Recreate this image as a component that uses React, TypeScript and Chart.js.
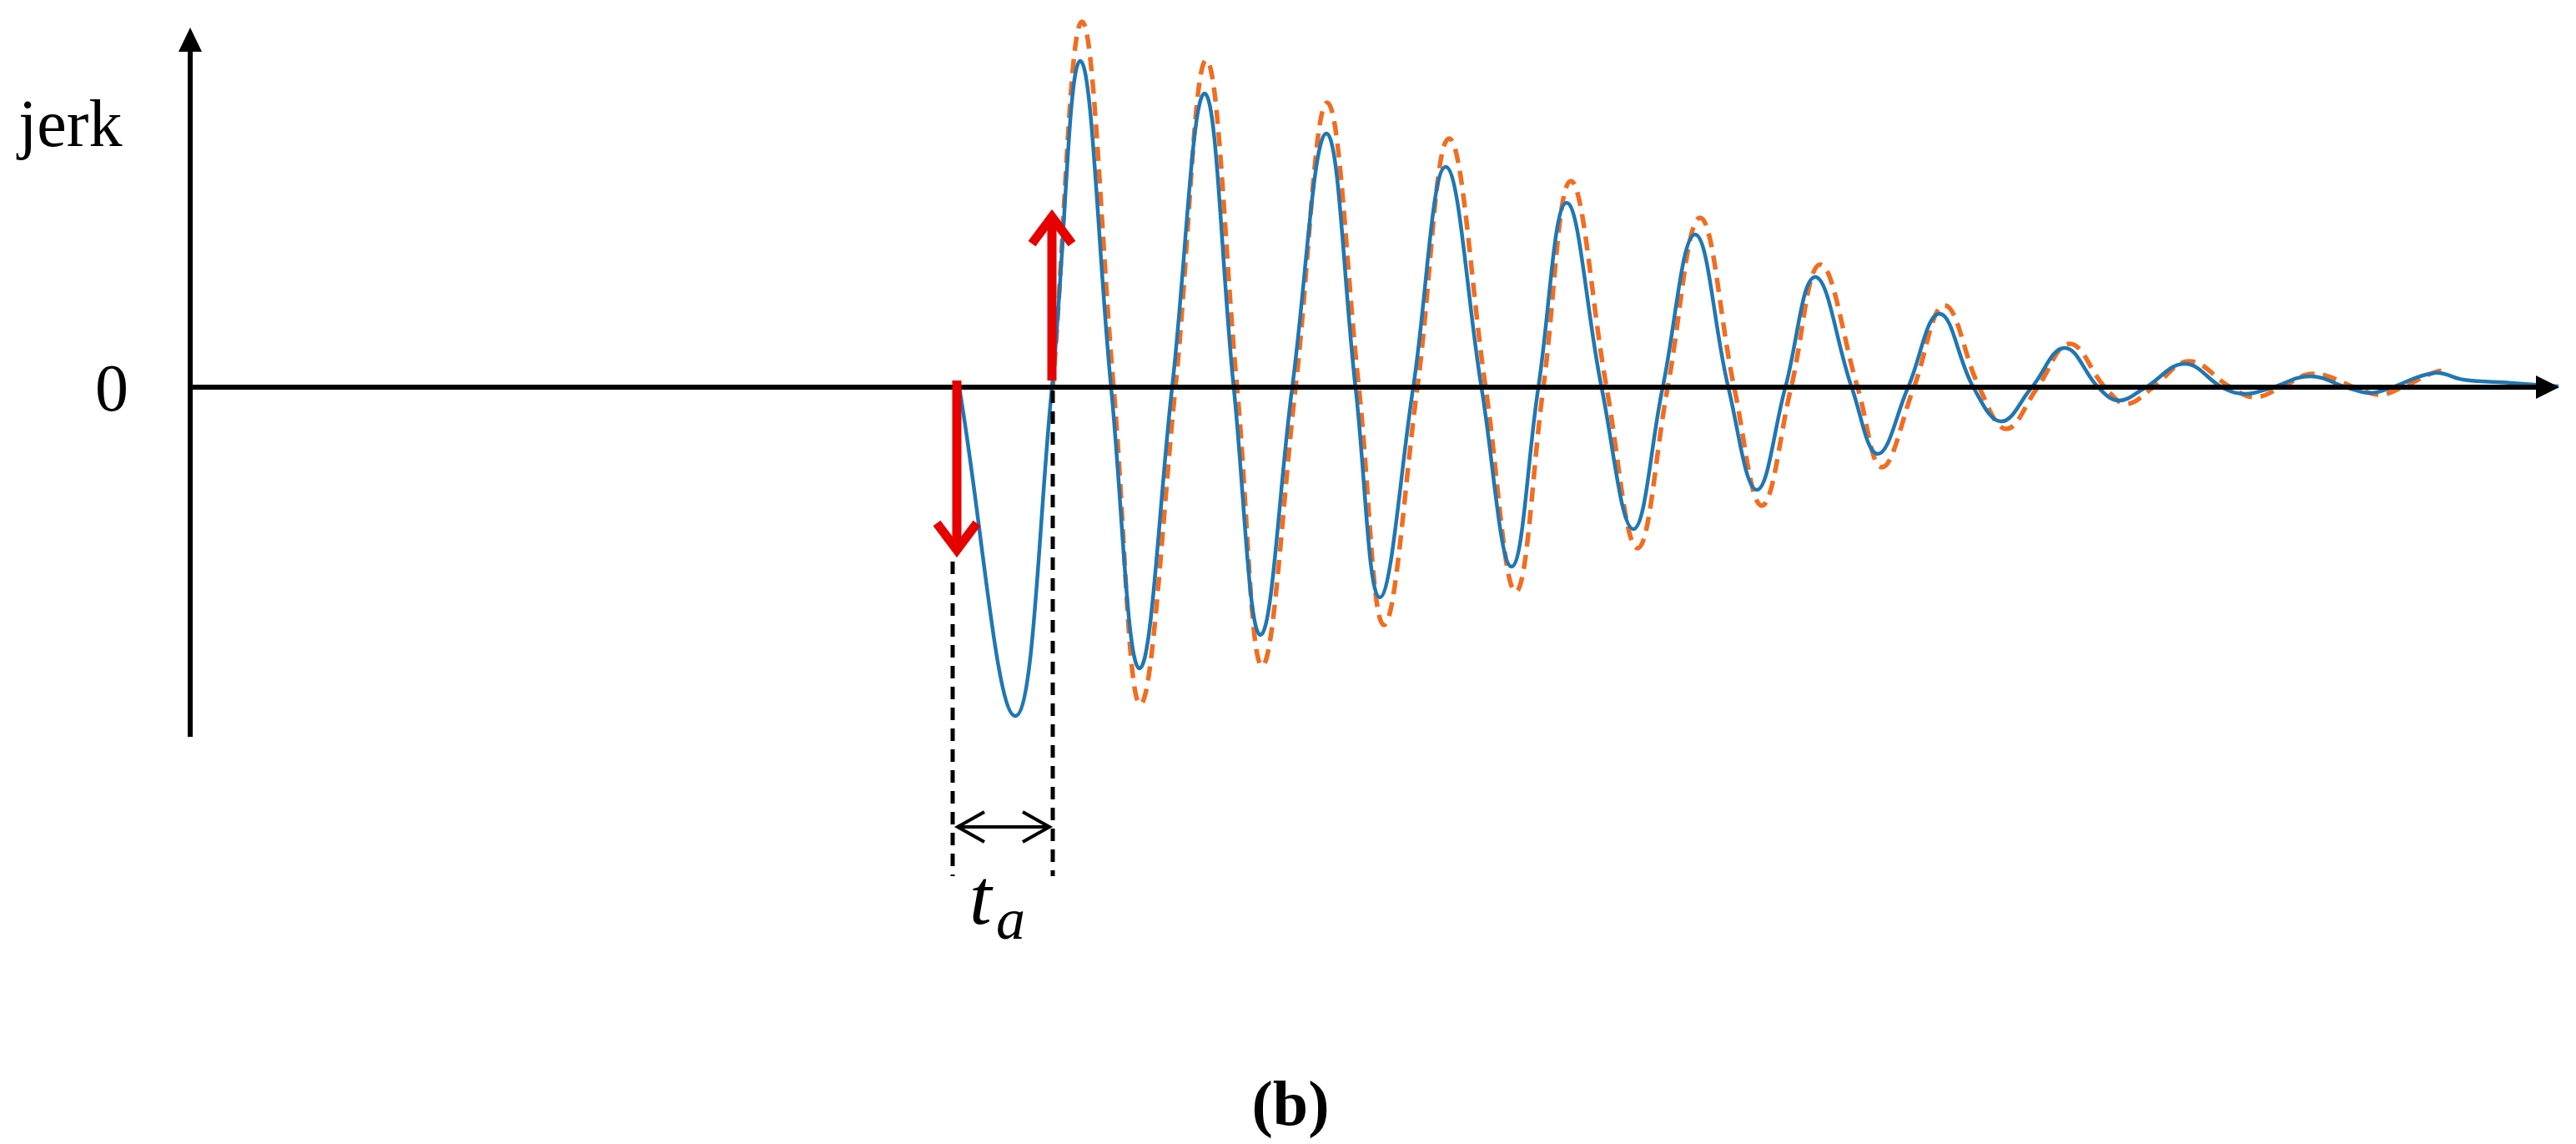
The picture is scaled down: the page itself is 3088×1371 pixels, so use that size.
import React, { useEffect, useRef } from "react";
import { Chart, registerables } from "chart.js";

Chart.register(...registerables);

// time (arbitrary units) and jerk values
const BLUE_T = [92.2, 98.9, 103.3, 106.7, 110.4, 113.8, 117.7, 121.6, 125.1, 128.3, 132.1, 136.2, 139.7, 142.6, 146.6, 150.5, 154.8, 158.4, 161.6, 165.0, 169.2, 173.0, 176.5, 180.4, 184.4, 187.8, 191.2, 194.8, 199.2, 202.3, 205.9, 209.7, 213.8, 217.1, 220.7, 224.7, 228.8, 231.2, 234.3, 239.1, 243.7, 246.4, 249.4, 254.1, 258.7, 261.3, 263.7, 269.0, 272.5, 278.2, 283.9];
const BLUE_V = [0, -3.93, 0, 3.92, 0, -3.36, 0, 3.53, 0, -2.96, 0, 3.05, 0, -2.51, 0, 2.65, 0, -2.14, 0, 2.22, 0, -1.69, 0, 1.84, 0, -1.22, 0, 1.33, 0, -0.79, 0, 0.89, 0, -0.40, 0, 0.48, 0, -0.15, 0, 0.29, 0, -0.07, 0, 0.14, 0, -0.06, 0, 0.18, 0.10, 0.06, 0.02];

const ORANGE_T = [103.4, 106.9, 110.7, 113.9, 118.1, 121.8, 125.5, 128.5, 132.5, 136.3, 140.1, 143.1, 147.1, 150.9, 155.3, 158.9, 162.2, 165.5, 169.8, 173.5, 177.1, 181.0, 185.1, 188.4, 191.9, 195.4, 199.9, 202.8, 206.6, 210.3, 214.5, 217.7, 221.4, 225.3, 229.6, 232.1, 235.2, 239.6, 244.7, 247.5, 250.5, 254.5, 259.7, 262.4, 265.0, 269.4, 270.7];
const ORANGE_V = [0, 4.39, 0, -3.79, 0, 3.93, 0, -3.33, 0, 3.42, 0, -2.84, 0, 2.99, 0, -2.44, 0, 2.48, 0, -1.92, 0, 2.04, 0, -1.41, 0, 1.48, 0, -0.95, 0, 0.99, 0, -0.49, 0, 0.53, 0, -0.19, 0, 0.32, 0, -0.11, 0, 0.17, 0, -0.08, 0, 0.20, 0.18];

// annotation values (in data units)
const TA_START = 91.4;
const TA_END = 103.4;
const ARROW_DOWN_T = 91.9;
const ARROW_DOWN_TO = -2.04;
const ARROW_UP_T = 103.4;
const ARROW_UP_TO = 2.15;
const DASH_BOTTOM = -5.85;
const DASH_LEFT_TOP = -2.08;
const TA_ARROW_V = -5.26;

const X_MIN = 0;
const X_MAX = 284;
const Y_MIN = -4.18;
const Y_MAX = 4.5;
const AXIS_TOP = 4.32;

const SERIF = "'Liberation Serif', 'Times New Roman', serif";

const decorPlugin = {
  id: "decor",
  afterDatasetsDraw(chart: any) {
    const ctx = chart.ctx as CanvasRenderingContext2D;
    const xs = chart.scales.x;
    const ys = chart.scales.y;
    const X = (v: number) => xs.getPixelForValue(v);
    const Y = (v: number) => ys.getPixelForValue(v);
    const x0 = X(X_MIN);
    const y0 = Y(0);
    const yTop = Y(AXIS_TOP);
    const yBot = Y(Y_MIN);
    const xEnd = X(X_MAX);
    ctx.save();

    // axes
    ctx.strokeStyle = "#000";
    ctx.fillStyle = "#000";
    ctx.lineWidth = 6;
    ctx.lineCap = "butt";
    ctx.beginPath();
    ctx.moveTo(x0, yBot);
    ctx.lineTo(x0, yTop + 28);
    ctx.stroke();
    ctx.beginPath();
    ctx.moveTo(x0 - 3, y0 - 1);
    ctx.lineTo(xEnd - 28, y0 - 1);
    ctx.stroke();
    // arrow heads
    ctx.beginPath();
    ctx.moveTo(x0, yTop);
    ctx.lineTo(x0 - 14, yTop + 29);
    ctx.lineTo(x0 + 14, yTop + 29);
    ctx.closePath();
    ctx.fill();
    ctx.beginPath();
    ctx.moveTo(xEnd, y0 - 1);
    ctx.lineTo(xEnd - 28, y0 - 15);
    ctx.lineTo(xEnd - 28, y0 + 13);
    ctx.closePath();
    ctx.fill();

    // dashed vertical lines
    ctx.lineWidth = 5;
    ctx.setLineDash([15, 10]);
    ctx.beginPath();
    ctx.moveTo(X(TA_START), Y(DASH_LEFT_TOP));
    ctx.lineTo(X(TA_START), Y(DASH_BOTTOM));
    ctx.moveTo(X(TA_END), y0 + 3);
    ctx.lineTo(X(TA_END), Y(DASH_BOTTOM));
    ctx.stroke();
    ctx.setLineDash([]);

    // double arrow
    const ya = Y(TA_ARROW_V);
    const xa1 = X(TA_START) + 6;
    const xa2 = X(TA_END) - 4;
    ctx.lineWidth = 4;
    ctx.beginPath();
    ctx.moveTo(xa1, ya);
    ctx.lineTo(xa2, ya);
    ctx.moveTo(xa1 + 32, ya - 18);
    ctx.lineTo(xa1, ya);
    ctx.lineTo(xa1 + 32, ya + 18);
    ctx.moveTo(xa2 - 32, ya - 18);
    ctx.lineTo(xa2, ya);
    ctx.lineTo(xa2 - 32, ya + 18);
    ctx.stroke();

    // red arrows
    ctx.strokeStyle = "#e60000";
    ctx.lineWidth = 11;
    ctx.lineJoin = "miter";
    const xd = X(ARROW_DOWN_T);
    const yd = Y(ARROW_DOWN_TO);
    ctx.beginPath();
    ctx.moveTo(xd, y0 - 9);
    ctx.lineTo(xd, yd - 8);
    ctx.stroke();
    ctx.beginPath();
    ctx.moveTo(xd - 24, yd - 42);
    ctx.lineTo(xd, yd - 10);
    ctx.lineTo(xd + 24, yd - 42);
    ctx.stroke();
    const xu = X(ARROW_UP_T) - 1;
    const yu = Y(ARROW_UP_TO);
    ctx.beginPath();
    ctx.moveTo(xu, y0 - 9);
    ctx.lineTo(xu, yu + 8);
    ctx.stroke();
    ctx.beginPath();
    ctx.moveTo(xu - 24, yu + 42);
    ctx.lineTo(xu, yu + 10);
    ctx.lineTo(xu + 24, yu + 42);
    ctx.stroke();

    // texts
    ctx.fillStyle = "#000";
    ctx.textBaseline = "alphabetic";
    ctx.textAlign = "left";
    ctx.font = `80px ${SERIF}`;
    ctx.fillText("jerk", x0 - 206, y0 - 290);
    ctx.textAlign = "right";
    ctx.font = `80px ${SERIF}`;
    ctx.fillText("0", x0 - 74, y0 + 27);

    ctx.textAlign = "left";
    ctx.font = `italic 96px ${SERIF}`;
    ctx.fillText("t", X(TA_START) + 20, Y(DASH_BOTTOM) + 57);
    ctx.font = `italic 70px ${SERIF}`;
    ctx.fillText("a", X(TA_START) + 52, Y(DASH_BOTTOM) + 75);

    ctx.textAlign = "center";
    ctx.font = `bold 76px ${SERIF}`;
    ctx.fillText("(b)", 1547, 1348);

    ctx.restore();
  },
};

export default function App() {
  const ref = useRef<HTMLCanvasElement | null>(null);
  useEffect(() => {
    document.body.style.margin = "0";
    const canvas = ref.current;
    if (!canvas) return;
    const blue = BLUE_T.map((t, i) => ({ x: t, y: BLUE_V[i] }));
    const orange = ORANGE_T.map((t, i) => ({ x: t, y: ORANGE_V[i] }));
    const chart = new Chart(canvas, {
      type: "line",
      data: {
        datasets: [
          {
            label: "measured",
            data: blue,
            borderColor: "#1f77b4",
            borderWidth: 4.5,
            pointRadius: 0,
            tension: 0.4,
            fill: false,
            clip: false as any,
          },
          {
            label: "model",
            data: orange,
            borderColor: "#f26d1f",
            borderWidth: 5.5,
            borderDash: [17, 10],
            pointRadius: 0,
            tension: 0.4,
            fill: false,
            clip: false as any,
          },
        ],
      },
      options: {
        animation: false,
        responsive: false,
        devicePixelRatio: 1,
        layout: { padding: { left: 228, right: 20, top: 15, bottom: 488 } },
        plugins: {
          legend: { display: false },
          tooltip: { enabled: false },
          title: { display: false },
        },
        events: [],
        scales: {
          x: { type: "linear", min: X_MIN, max: X_MAX, display: false },
          y: { type: "linear", min: Y_MIN, max: Y_MAX, display: false },
        },
      },
      plugins: [decorPlugin],
    });
    return () => chart.destroy();
  }, []);
  return (
    <div style={{ width: 3088, height: 1371, background: "#fff" }}>
      <canvas ref={ref} width={3088} height={1371} style={{ display: "block" }} />
    </div>
  );
}
